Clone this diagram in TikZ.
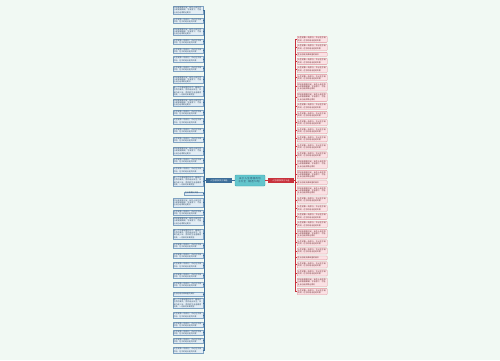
\documentclass[tikz,border=0pt]{standalone}
\usepackage{fontspec}
\newfontfamily\cjk{Noto Sans CJK SC}
\XeTeXlinebreaklocale "zh"
\XeTeXlinebreakskip = 0pt plus 0.5pt
\definecolor{bg}{HTML}{F1F9F3}
\definecolor{lfill}{HTML}{E2EDF5}
\definecolor{lborder}{HTML}{7FA2C2}
\definecolor{lline}{HTML}{3D6E99}
\definecolor{ltext}{HTML}{2E4A66}
\definecolor{rfill}{HTML}{FBE1E4}
\definecolor{rborder}{HTML}{DE8D97}
\definecolor{rline}{HTML}{C8323C}
\definecolor{rtext}{HTML}{6A2A30}
\definecolor{cfill}{HTML}{62C5CC}
\definecolor{cborder}{HTML}{3FA9B2}
\def\tone{生活总是充满希望的美好}
\def\ttwo{人生就像一场旅行，不必在乎目的地，在乎的是沿途的风景}
\def\tthree{时间会慢慢沉淀，有些人会在你心底慢慢模糊，学会放下，才能让自己走得更远更好}
\def\tfour{每一个不曾起舞的日子，都是对生命的辜负。愿你走出半生，归来仍是少年，愿你的生活温暖而明亮，一切美好如期而至}
\newcommand\pick[1]{\ifcase#1\or\tone\or\ttwo\or\tthree\or\tfour\fi}
\begin{document}
\begin{tikzpicture}[x=1pt,y=-1pt,
  font=\cjk\fontsize{1.9}{2.3}\selectfont,
  lleaf/.style={draw=lborder, fill=lfill, line width=0.3pt, anchor=north east,
    inner xsep=0.8pt, inner ysep=0.4pt, text width=28.4pt, align=left, text=ltext},
  rleaf/.style={draw=rborder, fill=rfill, line width=0.3pt, anchor=north west,
    inner xsep=0.8pt, inner ysep=0.4pt, text width=28.4pt, align=left, text=rtext,
    rounded corners=0.6pt},
  ltrunk/.style={draw=lline, line width=0.9pt},
  rtrunk/.style={draw=rline, line width=0.9pt},
  centernode/.style={draw=cborder, fill=cfill, line width=0.4pt, rounded corners=1pt,
    minimum width=30pt, minimum height=11pt, inner sep=0.8pt, text width=28pt,
    align=center, text=ltext, font=\cjk\fontsize{2.4}{3}\selectfont},
  lbranchnode/.style={fill=lline, minimum width=26pt, minimum height=5pt, inner sep=0.5pt,
    text=white, font=\cjk\fontsize{1.9}{2.3}\selectfont},
  rbranchnode/.style={fill=rline, minimum width=26pt, minimum height=5pt, inner sep=0.5pt,
    text=white, font=\cjk\fontsize{1.9}{2.3}\selectfont}]
\fill[bg] (0,0) rectangle (500,360);
\useasboundingbox (0,0) rectangle (500,360);

\node[centernode] (c) at (250,180.5) {关于人生感悟的句子大全（精选70句）};
\node[lbranchnode] (lb) at (219,180.5) {人生感悟的句子精选};
\node[rbranchnode] (rb) at (281,180.5) {人生感悟的句子大全};
\draw[ltrunk] (c.west) -- (lb.east);
\draw[rtrunk] (c.east) -- (rb.west);

% left leaves: top/bottom/lines
\foreach \a/\b/\n [count=\i] in {6/14/3, 18/23/2, 28/35/3, 39/44/2, 48/53/2, 56/62/2,
  66/71/2, 76/83/3, 86/96/4, 99/106/3, 110/114/2, 118/124/2, 128/133/2, 137/142/2,
  147/155/3, 158/163/2, 167/173/2, 176/186/4, 198/207/3, 210/214/2, 217/225/3,
  229/238/4, 243/248/2, 253/257/2, 262/268/2, 273/278/2, 282/287/2, 292/296/1,
  298/308/4, 312/318/2, 322/327/2, 330/335/2, 338/343/2, 347/353/2} {
  \pgfmathsetmacro\hh{\b-\a}
  \node[lleaf, minimum height=\hh pt] (l\i) at (203,\a) {\pick{\n}};
  \draw[ltrunk] (lb.west) -- ++(-1.8,0) |- (l\i.east);
}
% short single-line left leaf
\node[lleaf, text width=17pt, minimum height=3.2pt] (ls) at (203,191.5) {生活需要仪式感};
\draw[ltrunk] (lb.west) -- ++(-1.8,0) |- (ls.east);

% right leaves
\foreach \n [count=\i, remember=\ynext as \yprev (initially 36)] in
  {2,2,1,2,2,2,3,3,2,2,2,2,2,2,2,3,3,1,3,2,2,2,2,3,2,2,1,2,2,3,2} {
  \pgfmathsetmacro\hh{2.3*\n+1.6}
  \pgfmathsetmacro\ynext{\yprev+\hh+1.9}
  \node[rleaf, minimum height=\hh pt] (r\i) at (297,\yprev) {\pick{\n}};
  \draw[rtrunk] (rb.east) -- ++(1.5,0) |- (r\i.west);
}
\end{tikzpicture}
\end{document}
